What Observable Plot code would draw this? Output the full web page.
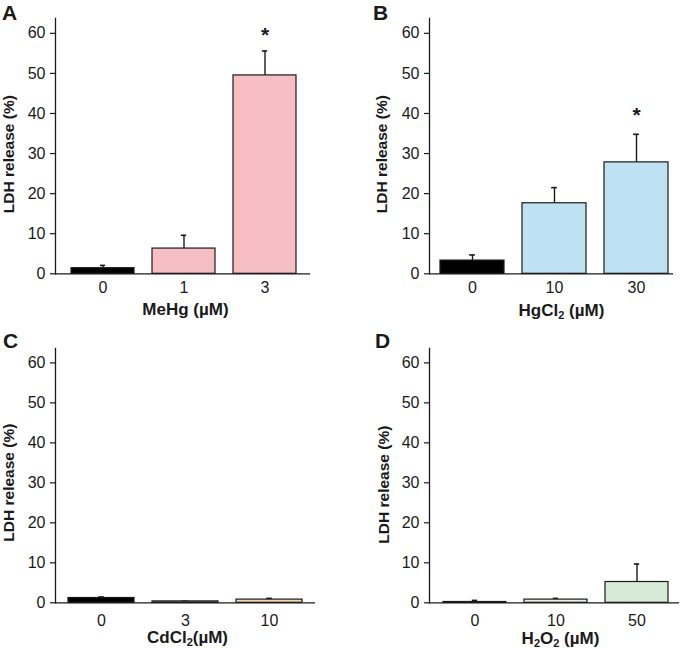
<!DOCTYPE html>
<html><head><meta charset="utf-8">
<script src="https://cdn.jsdelivr.net/npm/d3@7"></script>
<script src="https://cdn.jsdelivr.net/npm/@observablehq/plot@0.6"></script>
<style>
body{margin:0;background:#fff;}
#fig{position:relative;width:680px;height:649px;font-family:"Liberation Sans",Arial,sans-serif;color:#1a1a1a;}
.panel{position:absolute;}
.letter{position:absolute;font-weight:bold;font-size:21px;line-height:1;}
</style></head><body><div id="fig"></div>
<script>
// ---- data ----
const yTicks = [0, 10, 20, 30, 40, 50, 60];
const yLabel = "LDH release (%)";

const dosesA = ["0", "1", "3"];
const ldhA = [1.4, 6.3, 49.5];
const errA = [0.7, 3.3, 6.1];
const sigA = [false, false, true];
const colorsA = ["#000000", "#f4bec3", "#f4bec3"];
const xLabelA = "MeHg (µM)";

const dosesB = ["0", "10", "30"];
const ldhB = [3.3, 17.6, 27.8];
const errB = [1.4, 3.9, 7.0];
const sigB = [false, false, true];
const colorsB = ["#000000", "#bee2f1", "#bee2f1"];
const xLabelB = "HgCl₂ (µM)";

const dosesC = ["0", "3", "10"];
const ldhC = [1.2, 0.35, 0.8];
const errC = [0.25, 0.05, 0.3];
const sigC = [false, false, false];
const colorsC = ["#000000", "#cfc3b5", "#f3d6b3"];
const xLabelC = "CdCl₂(µM)";

const dosesD = ["0", "10", "50"];
const ldhD = [0.2, 0.8, 5.2];
const errD = [0.4, 0.3, 4.5];
const sigD = [false, false, false];
const colorsD = ["#000000", "#e6efe6", "#d5ebd7"];
const xLabelD = "H₂O₂ (µM)";

// ---- layout ----
const panels = [
  {letter: "A", left: 0, top: 0, w: 340, h: 320, ml: 55, mr: 30, mt: 18, mb: 46.7, ymax: 63.7, il: 15, ir: 13, tp: 8,
   ylx: -46, yly: 8, xlx: 2.5, xly: 36, starDy: -16, lx: 2, ly: 2,
   doses: dosesA, vals: ldhA, errs: errA, sig: sigA, colors: colorsA, xlabel: xLabelA},
  {letter: "B", left: 340, top: 0, w: 340, h: 320, ml: 89, mr: 7, mt: 18, mb: 46.7, ymax: 63.7, il: 10, ir: 5, tp: 8,
   ylx: -47, yly: 8, xlx: 10, xly: 36.5, starDy: -19, lx: 373, ly: 2,
   doses: dosesB, vals: ldhB, errs: errB, sig: sigB, colors: colorsB, xlabel: xLabelB},
  {letter: "C", left: 0, top: 320, w: 340, h: 329, ml: 55, mr: 25, mt: 28, mb: 46.7, ymax: 63.6, il: 12, ir: 12, tp: 12,
   ylx: -46, yly: 7, xlx: 2, xly: 34.4, starDy: -14, lx: 3, ly: 330,
   doses: dosesC, vals: ldhC, errs: errC, sig: sigC, colors: colorsC, xlabel: xLabelC},
  {letter: "D", left: 340, top: 320, w: 340, h: 329, ml: 89, mr: 1, mt: 28, mb: 46.7, ymax: 63.6, il: 13, ir: 10, tp: 12,
   ylx: -45, yly: 9, xlx: 6, xly: 35.7, starDy: -14, lx: 375, ly: 330,
   doses: dosesD, vals: ldhD, errs: errD, sig: sigD, colors: colorsD, xlabel: xLabelD}
];

const fig = document.getElementById("fig");
const pin = 0.22;

function subscriptify(svg) {
  svg.querySelectorAll("text").forEach(t => {
    if (t.children.length === 0 && t.textContent.includes("₂")) {
      const parts = t.textContent.split("₂");
      t.textContent = "";
      const ns = "http://www.w3.org/2000/svg";
      parts.forEach((p, i) => {
        if (p.length) {
          const s = document.createElementNS(ns, "tspan");
          s.textContent = p;
          if (i > 0) s.setAttribute("dy", "-3");
          t.appendChild(s);
        }
        if (i < parts.length - 1) {
          const sub = document.createElementNS(ns, "tspan");
          sub.textContent = "2";
          sub.setAttribute("font-size", "11");
          sub.setAttribute("dy", "3");
          t.appendChild(sub);
        }
      });
    }
  });
}

for (const cfg of panels) {
  const data = cfg.doses.map((d, i) => ({dose: d, v: cfg.vals[i], hi: cfg.vals[i] + cfg.errs[i], sig: cfg.sig[i], c: cfg.colors[i]}));
  const span = cfg.w - cfg.ml - cfg.mr - cfg.il - cfg.ir;
  const bw = span / (cfg.doses.length - pin) * (1 - pin);
  const capInset = (bw - 6) / 2;
  const chart = Plot.plot({
    width: cfg.w, height: cfg.h,
    marginLeft: cfg.ml, marginRight: cfg.mr, marginTop: cfg.mt, marginBottom: cfg.mb,
    style: {fontFamily: "'Liberation Sans', Arial, sans-serif", fontSize: "16px", color: "#1a1a1a", background: "transparent", overflow: "visible"},
    x: {domain: cfg.doses, paddingInner: pin, paddingOuter: 0, insetLeft: cfg.il, insetRight: cfg.ir, axis: null},
    y: {domain: [0, cfg.ymax], axis: null},
    color: {type: "identity"},
    marks: [
      Plot.ruleX(data, {x: "dose", y1: "v", y2: "hi", stroke: "#1a1a1a", strokeWidth: 1.4}),
      Plot.tickY(data, {x: "dose", y: "hi", stroke: "#1a1a1a", strokeWidth: 1.6, insetLeft: capInset, insetRight: capInset}),
      Plot.barY(data, {x: "dose", y: "v", fill: "c", stroke: "#1a1a1a", strokeWidth: 1.2}),
      Plot.axisY({ticks: yTicks, tickSize: 5, tickPadding: 5, label: null, fontSize: 16, strokeWidth: 1.2}),
      Plot.axisX({tickSize: 0, tickPadding: cfg.tp, label: null, fontSize: 16}),
      Plot.frame({anchor: "left", stroke: "#1a1a1a", strokeWidth: 1.3}),
      Plot.ruleY([0], {stroke: "#1a1a1a", strokeWidth: 1.3}),
      Plot.text(data.filter(d => d.sig), {x: "dose", y: "hi", text: () => "*", dy: cfg.starDy, fontSize: 21, fontWeight: "bold"}),
      Plot.text([yLabel], {frameAnchor: "left", textAnchor: "middle", lineAnchor: "middle", rotate: -90, dx: cfg.ylx, dy: cfg.yly, fontWeight: "bold", fontSize: 15.5}),
      Plot.text([cfg.xlabel], {frameAnchor: "bottom", textAnchor: "middle", lineAnchor: "middle", dx: cfg.xlx, dy: cfg.xly, fontWeight: "bold", fontSize: 17})
    ]
  });
  subscriptify(chart);
  const wrap = document.createElement("div");
  wrap.className = "panel";
  wrap.style.left = cfg.left + "px";
  wrap.style.top = cfg.top + "px";
  wrap.appendChild(chart);
  fig.appendChild(wrap);
  const L = document.createElement("div");
  L.className = "letter";
  L.style.left = cfg.lx + "px";
  L.style.top = cfg.ly + "px";
  L.textContent = cfg.letter;
  fig.appendChild(L);
}
</script></body></html>
